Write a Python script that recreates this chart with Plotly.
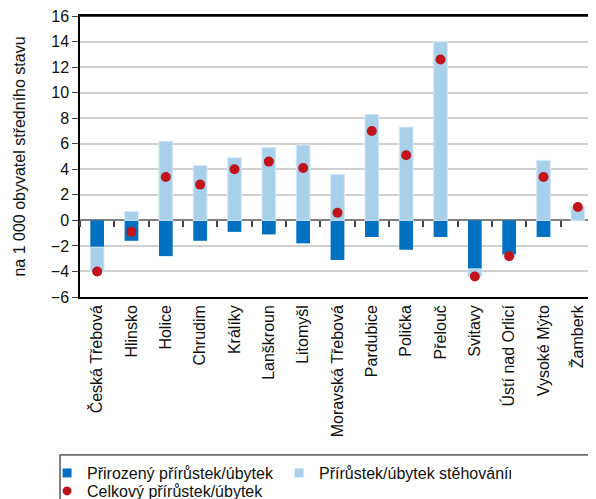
import plotly.graph_objects as go

towns = ["Česká Třebová", "Hlinsko", "Holice", "Chrudim", "Králíky", "Lanškroun",
         "Litomyšl", "Moravská Třebová", "Pardubice", "Polička", "Přelouč",
         "Svitavy", "Ústí nad Orlicí", "Vysoké Mýto", "Žamberk"]
natural = [-2.1, -1.6, -2.8, -1.6, -0.9, -1.1, -1.8, -3.1, -1.3, -2.3, -1.3, -3.8, -2.7, -1.3, 0.0]
migration = [-1.9, 0.7, 6.2, 4.3, 4.9, 5.7, 5.9, 3.6, 8.3, 7.3, 14.0, -0.6, -0.1, 4.7, 1.05]
total = [-4.0, -0.9, 3.4, 2.8, 4.0, 4.6, 4.1, 0.6, 7.0, 5.1, 12.6, -4.4, -2.8, 3.4, 1.05]
y_ticks = [-6, -4, -2, 0, 2, 4, 6, 8, 10, 12, 14, 16]
names = ["Přirozený přírůstek/úbytek", "Přírůstek/úbytek stěhováním", "Celkový přírůstek/úbytek"]

DARK = "#0070C0"
LIGHT = "#A9D0EA"
RED = "#C0141C"
FONT = "Liberation Sans, Arial, sans-serif"

fig = go.Figure()
fig.add_trace(go.Bar(x=towns, y=natural, marker=dict(color=DARK, line=dict(width=0)),
                     name=names[0], showlegend=False, width=0.4))
fig.add_trace(go.Bar(x=towns, y=migration, marker=dict(color=LIGHT, line=dict(color="#d6e9f6", width=1)),
                     name=names[1], showlegend=False, width=0.4))
fig.add_trace(go.Scatter(x=towns, y=total, mode="markers", name=names[2], showlegend=False,
                         marker=dict(color=RED, size=10), cliponaxis=False))
# legend entries
fig.add_trace(go.Scatter(x=[None], y=[None], mode="markers", name=names[0], legend="legend",
                         marker=dict(color=DARK, size=9, symbol="square")))
fig.add_trace(go.Scatter(x=[None], y=[None], mode="markers", name=names[1], legend="legend",
                         marker=dict(color=LIGHT, size=9, symbol="square")))
fig.add_trace(go.Scatter(x=[None], y=[None], mode="markers", name=names[2], legend="legend2",
                         marker=dict(color=RED, size=9, symbol="circle")))
# helper for tick marks on the zero line
fig.add_trace(go.Scatter(x=[None], y=[None], xaxis="x2", showlegend=False, hoverinfo="skip"))

legend_common = dict(orientation="h", x=-0.064, xanchor="left", yanchor="top",
                     entrywidth=187, entrywidthmode="pixels", bgcolor="rgba(0,0,0,0)",
                     borderwidth=0, font=dict(size=16, color="#111"), itemwidth=30)

fig.update_layout(
    width=588, height=491,
    margin=dict(l=72, r=1, t=8, b=202, autoexpand=False),
    barmode="relative",
    plot_bgcolor="white", paper_bgcolor="white",
    font=dict(family=FONT, size=16, color="#111"),
    xaxis=dict(type="category", tickangle=-90, tickfont=dict(size=16, color="#111"),
               showline=True, linecolor="black", linewidth=1.5, mirror=True,
               ticks="", showgrid=False, range=[-0.5, 14.5], automargin=False,
               ticklabeloverflow="allow"),
    xaxis2=dict(overlaying="x", anchor="free", position=(0 - (-6)) / 22.0,
                range=[-0.5, 14.5], tick0=0.5, dtick=1, ticks="outside", ticklen=6,
                tickwidth=1.5, tickcolor="#444", showticklabels=False, showline=False,
                showgrid=False, zeroline=False),
    yaxis=dict(range=[-6, 16], tickvals=y_ticks, ticks="outside", ticklen=6,
               tickcolor="#444", tickwidth=1.2, automargin=False,
               ticklabeloverflow="allow",
               showline=True, linecolor="black", linewidth=1.5, mirror="all",
               gridcolor="#d0d0d0", gridwidth=1.5,
               zeroline=True, zerolinecolor="#808080", zerolinewidth=2,
               tickfont=dict(size=16, color="#111"),
               title=dict(text="na 1 000 obyvatel středního stavu", font=dict(size=16), standoff=21)),
    legend=dict(y=-0.566, **legend_common),
    legend2=dict(y=-0.630, **legend_common),
    shapes=[dict(type="rect", xref="paper", yref="paper",
                 x0=-0.0388, x1=1.01, y0=-0.562, y1=-0.75,
                 line=dict(color="black", width=1), fillcolor="rgba(0,0,0,0)"),
            dict(type="line", xref="paper", yref="paper", x0=0, x1=1, y0=1, y1=1,
                 line=dict(color="black", width=1.5))],
)

fig.write_html("out.html")
